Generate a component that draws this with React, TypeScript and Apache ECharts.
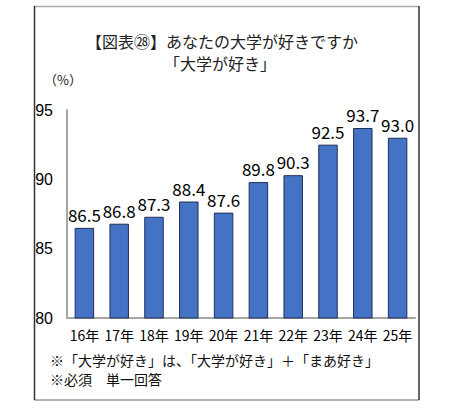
import { useEffect, useRef } from 'react';
import * as echarts from 'echarts';

const years = ['16年', '17年', '18年', '19年', '20年', '21年', '22年', '23年', '24年', '25年'];
const likeRates = [86.5, 86.8, 87.3, 88.4, 87.6, 89.8, 90.3, 92.5, 93.7, 93.0];
const titleLines = ['【図表㉘】あなたの大学が好きですか', '「大学が好き」'];
const unitLabel = '（%）';
const notes = ['※「大学が好き」は、「大学が好き」＋「まあ好き」', '※必須　単一回答'];

const jp = '"Noto Sans CJK JP", sans-serif';

export default function App() {
  const chartRef = useRef<HTMLDivElement>(null);

  useEffect(() => {
    if (!chartRef.current) return;
    const chart = echarts.init(chartRef.current, null, { renderer: 'svg' });

    const option: echarts.EChartsOption = {
      animation: false,
      backgroundColor: '#fff',
      grid: {
        top: 110,
        bottom: 91,
        left: 67,
        right: 35,
      },
      xAxis: {
        type: 'category',
        data: years,
        axisLine: { lineStyle: { color: '#a6a6a6', width: 2 } },
        axisTick: { show: false },
        axisLabel: {
          interval: 0,
          color: '#000',
          fontSize: 14,
          fontFamily: jp,
          margin: 10,
        },
      },
      yAxis: {
        type: 'value',
        min: 80,
        max: 95,
        interval: 5,
        splitLine: { show: false },
        axisLine: { show: true, lineStyle: { color: '#a6a6a6', width: 2 } },
        axisTick: { show: false },
        axisLabel: {
          color: '#000',
          fontSize: 16,
          fontFamily: 'Liberation Sans, sans-serif',
          margin: 14,
        },
      },
      series: [
        {
          type: 'bar',
          data: likeRates,
          barWidth: '56%',
          itemStyle: {
            color: '#4472c4',
            borderColor: '#1f2f55',
            borderWidth: 1,
          },
          label: {
            show: true,
            position: 'top',
            distance: 5,
            color: '#000',
            fontSize: 17,
            fontFamily: jp,
            formatter: (p: any) => Number(p.value).toFixed(1),
          },
        },
      ],
      graphic: [
        { type: 'line', shape: { x1: 34, y1: 6.5, x2: 419, y2: 6.5 }, style: { stroke: '#aaa', lineWidth: 1.5 } },
        { type: 'line', shape: { x1: 34, y1: 400, x2: 419, y2: 400 }, style: { stroke: '#999', lineWidth: 1.5 } },
        { type: 'line', shape: { x1: 34.5, y1: 6, x2: 34.5, y2: 400 }, style: { stroke: '#333', lineWidth: 1.5 } },
        { type: 'line', shape: { x1: 419, y1: 6, x2: 419, y2: 400 }, style: { stroke: '#333', lineWidth: 1.5 } },
        {
          type: 'text',
          x: 222,
          y: 41,
          style: { text: titleLines[0], fill: '#222', font: `16px ${jp}`, align: 'center', verticalAlign: 'middle' },
        },
        {
          type: 'text',
          x: 220,
          y: 63,
          style: { text: titleLines[1], fill: '#222', font: `16px ${jp}`, align: 'center', verticalAlign: 'middle' },
        },
        {
          type: 'text',
          x: 44,
          y: 79,
          style: { text: unitLabel, fill: '#222', font: `13px ${jp}`, verticalAlign: 'middle' },
        },
        {
          type: 'text',
          x: 50,
          y: 360,
          style: { text: notes[0], fill: '#111', font: `14px ${jp}`, verticalAlign: 'middle' },
        },
        {
          type: 'text',
          x: 50,
          y: 379,
          style: { text: notes[1], fill: '#111', font: `14px ${jp}`, verticalAlign: 'middle' },
        },
      ],
    };

    chart.setOption(option);
    return () => {
      chart.dispose();
    };
  }, []);

  return (
    <div
      ref={chartRef}
      style={{ position: 'absolute', left: 0, top: 0, width: 450, height: 409 }}
    />
  );
}
